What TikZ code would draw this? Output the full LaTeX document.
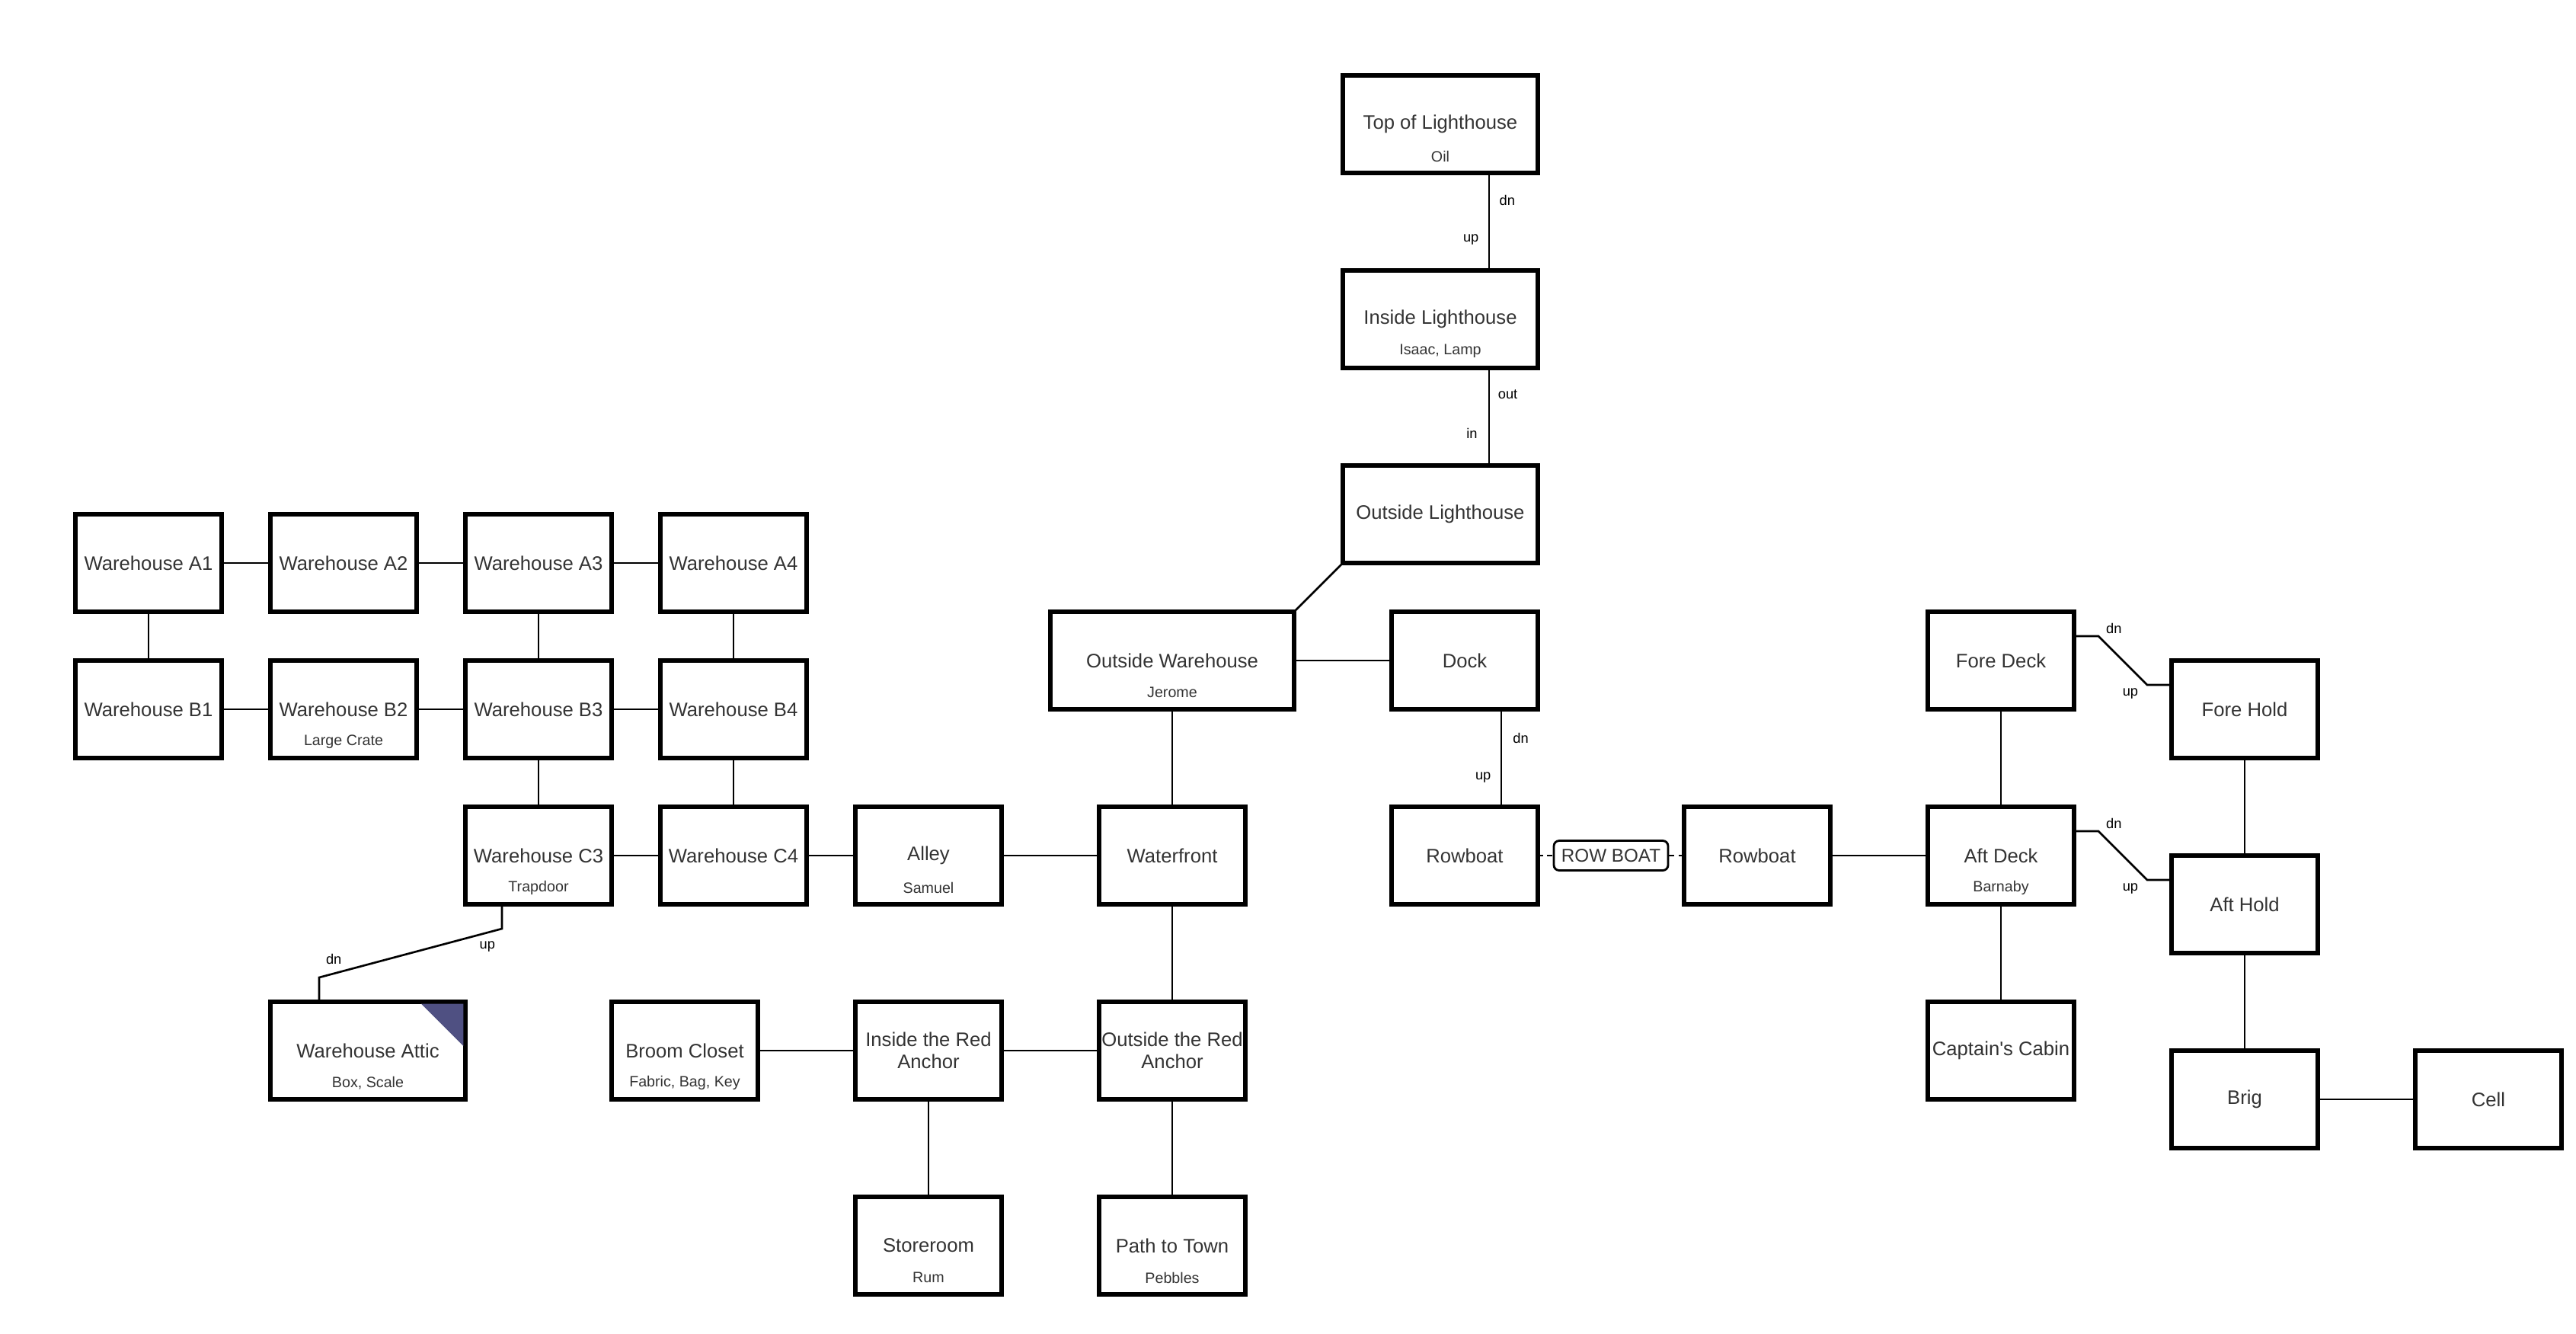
\documentclass[tikz,border=0pt]{standalone}
\usepackage{fontspec}
\setmainfont{Liberation Sans}
\usepackage{tikz}

\definecolor{roomtext}{RGB}{51,51,51}
\definecolor{atticmark}{RGB}{79,80,130}

\tikzset{
  room/.style={draw,line width=1.5pt,rectangle,minimum width=1.92cm,minimum height=1.28cm,
    inner sep=0pt,outer sep=0pt,align=center,text=roomtext,font=\fontsize{7.3}{8.4}\selectfont},
  wideroom/.style={room,minimum width=2.56cm},
  items/.style={inner sep=0pt,text=roomtext,font=\fontsize{5.6}{6.6}\selectfont},
  exitlbl/.style={inner sep=0pt,font=\fontsize{5.2}{6}\selectfont},
  link/.style={line width=0.75pt},
  boatlink/.style={line width=0.75pt,dash pattern=on 2pt off 1.5pt},
  boattag/.style={draw,line width=0.8pt,rounded corners=2pt,minimum width=1.5cm,minimum height=0.39cm,
    inner sep=0pt,text=roomtext,font=\fontsize{6.9}{8}\selectfont},
}

\begin{document}
\begin{tikzpicture}[x=0.64cm,y=-0.64cm]
  \useasboundingbox (-1.547,-1.547) rectangle (51.297,25.797);

  % lighthouse
  \node[wideroom] (tol) at (28,1) {Top of Lighthouse};
  \node[items] (tolsub) at (28,1.66) {Oil};
  \node[wideroom] (inl) at (28,5) {Inside Lighthouse};
  \node[items] (inlsub) at (28,5.66) {Isaac, Lamp};
  \node[wideroom] (oul) at (28,9) {Outside Lighthouse};

  % warehouse rooms
  \node[room] (wa1) at (1.5,10) {Warehouse A1};
  \node[room] (wa2) at (5.5,10) {Warehouse A2};
  \node[room] (wa3) at (9.5,10) {Warehouse A3};
  \node[room] (wa4) at (13.5,10) {Warehouse A4};
  \node[room] (wb1) at (1.5,13) {Warehouse B1};
  \node[room] (wb2) at (5.5,13) {Warehouse B2};
  \node[items] (wb2sub) at (5.5,13.66) {Large Crate};
  \node[room] (wb3) at (9.5,13) {Warehouse B3};
  \node[room] (wb4) at (13.5,13) {Warehouse B4};
  \node[room] (wc3) at (9.5,16) {Warehouse C3};
  \node[items] (wc3sub) at (9.5,16.66) {Trapdoor};
  \node[room] (wc4) at (13.5,16) {Warehouse C4};
  \node[wideroom] (attic) at (6,20) {Warehouse Attic};
  \node[items] (atticsub) at (6,20.66) {Box, Scale};
  \fill[atticmark] ([xshift=-0.58cm,yshift=-0.75pt]attic.north east) -- ([xshift=-0.75pt,yshift=-0.75pt]attic.north east)
    -- ([xshift=-0.75pt,yshift=-0.58cm]attic.north east) -- cycle;

  % town
  \node[room] (alley) at (17.5,16) {Alley};
  \node[items] (alleysub) at (17.5,16.66) {Samuel};
  \node[room,minimum width=3.2cm] (owh) at (22.5,12) {Outside Warehouse};
  \node[items] (owhsub) at (22.5,12.66) {Jerome};
  \node[room] (wf) at (22.5,16) {Waterfront};
  \node[room] (broom) at (12.5,20) {Broom Closet};
  \node[items] (broomsub) at (12.5,20.66) {Fabric, Bag, Key};
  \node[room] (ira) at (17.5,20) {Inside the Red\\Anchor};
  \node[room] (ora) at (22.5,20) {Outside the Red\\Anchor};
  \node[room] (store) at (17.5,24) {Storeroom};
  \node[items] (storesub) at (17.5,24.66) {Rum};
  \node[room] (path) at (22.5,24) {Path to Town};
  \node[items] (pathsub) at (22.5,24.66) {Pebbles};
  \node[room] (dock) at (28.5,12) {Dock};

  % boat and ship
  \node[room] (rb1) at (28.5,16) {Rowboat};
  \node[boattag] (boat) at (31.5,16) {ROW BOAT};
  \node[room] (rb2) at (34.5,16) {Rowboat};
  \node[room] (fd) at (39.5,12) {Fore Deck};
  \node[room] (ad) at (39.5,16) {Aft Deck};
  \node[items] (adsub) at (39.5,16.66) {Barnaby};
  \node[room] (cc) at (39.5,20) {Captain\textquotesingle s Cabin};
  \node[room] (fh) at (44.5,13) {Fore Hold};
  \node[room] (ah) at (44.5,17) {Aft Hold};
  \node[room] (brig) at (44.5,21) {Brig};
  \node[room] (cell) at (49.5,21) {Cell};

  % links
  \draw[link] ([xshift=0.64cm]tol.south) -- node[exitlbl,pos=0.28,right=3.5pt] {dn} node[exitlbl,pos=0.68,left=3.5pt] {up} ([xshift=0.64cm]inl.north);
  \draw[link] ([xshift=0.64cm]inl.south) -- node[exitlbl,pos=0.27,right=3pt] {out} node[exitlbl,pos=0.67,left=4pt] {in} ([xshift=0.64cm]oul.north);
  \draw[link] (oul.south west) -- (owh.north east);
  \draw[link] (wa1) -- (wa2) (wa2) -- (wa3) (wa3) -- (wa4);
  \draw[link] (wb1) -- (wb2) (wb2) -- (wb3) (wb3) -- (wb4);
  \draw[link] (wa1) -- (wb1) (wa3) -- (wb3) (wa4) -- (wb4);
  \draw[link] (wb3) -- (wc3) (wb4) -- (wc4);
  \draw[link] (wc3) -- (wc4) (wc4) -- (alley) (alley) -- (wf);
  \draw[link] ([xshift=-0.48cm]wc3.south) -- ++(0,0.5) -- node[exitlbl,pos=0.08,below=3pt] {up} node[exitlbl,pos=0.92,above=3pt] {dn}
    ([xshift=-0.64cm,yshift=0.32cm]attic.north) -- ([xshift=-0.64cm]attic.north);
  \draw[link] (owh) -- (dock) (owh) -- (wf) (wf) -- (ora);
  \draw[link] (broom) -- (ira) (ira) -- (ora) (ira) -- (store) (ora) -- (path);
  \draw[link] ([xshift=0.48cm]dock.south) -- node[exitlbl,pos=0.3,right=4pt] {dn} node[exitlbl,pos=0.7,left=3.5pt] {up} ([xshift=0.48cm]rb1.north);
  \draw[boatlink] (rb1) -- (boat);
  \draw[boatlink] (boat) -- (rb2);
  \draw[link] (rb2) -- (ad) (fd) -- (ad) (ad) -- (cc);
  \draw[link] (fh) -- (ah) (ah) -- (brig) (brig) -- (cell);
  \draw[link] ([yshift=0.32cm]fd.east) -- ++(0.5,0) node[exitlbl,anchor=south west,xshift=2.5pt,yshift=0.5pt] {dn}
    -- ([xshift=-0.32cm,yshift=0.32cm]fh.west) node[exitlbl,anchor=north east,xshift=-3pt,yshift=-1pt] {up} -- ([yshift=0.32cm]fh.west);
  \draw[link] ([yshift=0.32cm]ad.east) -- ++(0.5,0) node[exitlbl,anchor=south west,xshift=2.5pt,yshift=0.5pt] {dn}
    -- ([xshift=-0.32cm,yshift=0.32cm]ah.west) node[exitlbl,anchor=north east,xshift=-3pt,yshift=-1pt] {up} -- ([yshift=0.32cm]ah.west);
\end{tikzpicture}
\end{document}
